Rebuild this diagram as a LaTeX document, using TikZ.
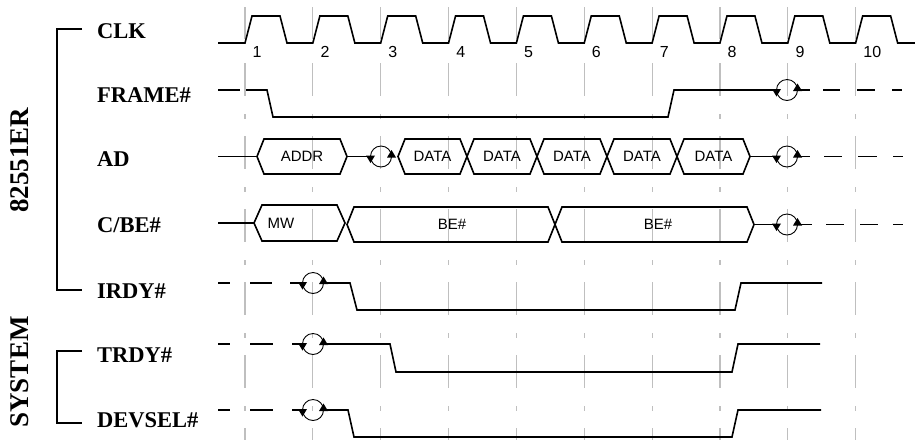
\documentclass[tikz,border=0pt]{standalone}
\usepackage{fontspec}
\setmainfont{Liberation Serif}
\newfontfamily\sansf{Liberation Sans}
\newcommand\tarnd[2]{%
  \draw[line width=0.9pt] (#1,#2) circle[radius=10.5pt];
  \fill (#1-15,#2-1) -- (#1-6,#2-1) -- (#1-10.5,#2+6.5) -- cycle;
  \fill (#1+6,#2+1) -- (#1+15,#2+1) -- (#1+10.5,#2-6.5) -- cycle;}
\newcommand\hexbus[5]{% left x, right x, top y, bottom y, slant
  \draw[sig] (#1,{(#3+#4)/2}) -- (#1+#5,#3) -- (#2-#5,#3) -- (#2,{(#3+#4)/2}) -- (#2-#5,#4) -- (#1+#5,#4) -- cycle;}
\begin{document}
\begin{tikzpicture}[x=1pt,y=-1pt,
  sig/.style={line width=1.6pt, line join=miter},
  gridln/.style={draw=black!25, line width=1.2pt},
  lbl/.style={font=\bfseries\fontsize{22.5}{26}\selectfont, anchor=base west, inner sep=0pt},
  side/.style={font=\bfseries\fontsize{27}{30}\selectfont, rotate=90, inner sep=0pt},
  num/.style={font=\sansf\fontsize{16}{18}\selectfont, anchor=north west, inner sep=0pt},
  bustext/.style={font=\sansf\fontsize{15}{18}\selectfont, inner sep=0pt},
  brk/.style={line width=1.8pt}]
\useasboundingbox (0,0) rectangle (915,440);

% grid lines
\foreach \k in {1,...,10}{
  \pgfmathsetmacro\xx{245+67.85*(\k-1)}
  \draw[gridln] (\xx,7) -- (\xx,39);
  \draw[gridln, dash pattern=on 33pt off 18pt on 5pt off 17pt] (\xx,63) -- (\xx,440);
}

% brackets and side labels
\draw[brk] (82,29) -- (57,29) -- (57,290) -- (82,290);
\draw[brk] (82,351) -- (57,351) -- (57,423) -- (82,423);
\node[side] (s1) at (20,160) {82551ER};
\node[side] (s2) at (20,372) {SYSTEM};

% signal names
\node[lbl] (lclk) at (97,38) {CLK};
\node[lbl] (lframe) at (97,102) {FRAME\#};
\node[lbl] (lad) at (97,166) {AD};
\node[lbl] (lcbe) at (97,232) {C/BE\#};
\node[lbl] (lirdy) at (97,298) {IRDY\#};
\node[lbl] (ltrdy) at (97,362) {TRDY\#};
\node[lbl] (ldev) at (97,427) {DEVSEL\#};

% CLK
\draw[sig] (218,43) foreach \k [evaluate=\k as \xx using 245+67.85*(\k-1)] in {1,...,10}{
  -- (\xx,43) -- (\xx+7,16) -- (\xx+35,16) -- (\xx+42,43) } -- (915,43);
\foreach \k in {1,...,10}{
  \pgfmathsetmacro\xx{245+67.85*(\k-1)}
  \node[num] (n\k) at (\xx+7.5,46.5) {\k};
}

% FRAME#
\draw[sig] (218,90) -- (240,90);
\draw[sig] (246,90) -- (267,90) -- (273,117) -- (668,117) -- (674,90) -- (776,90);
\tarnd{787}{90}
\draw[sig] (798,90) -- (810,90);
\draw[sig] (823,90) -- (840,90) (857,90) -- (875,90) (892,90) -- (902,90);

% AD
\draw[sig] (218,156.5) -- (257,156.5);
\hexbus{257}{347}{139}{174}{7}
\node[bustext] (addr) at (302,156.5) {ADDR};
\draw[sig] (347,156.5) -- (370,156.5);
\tarnd{381}{156.5}
\hexbus{398}{467}{139}{174}{7}
\hexbus{467}{537}{139}{174}{7}
\hexbus{537}{607}{139}{174}{7}
\hexbus{607}{677}{139}{174}{7}
\hexbus{677}{750}{139}{174}{7}
\node[bustext] (d1) at (432.5,156.5) {DATA};
\node[bustext] (d2) at (502,156.5) {DATA};
\node[bustext] (d3) at (572,156.5) {DATA};
\node[bustext] (d4) at (642,156.5) {DATA};
\node[bustext] (d5) at (713.5,156.5) {DATA};
\draw[sig] (750,156.5) -- (776,156.5);
\tarnd{787}{156.5}
\draw[sig] (798,156.5) -- (810,156.5);
\draw[sig] (824,156.5) -- (842,156.5) (858,156.5) -- (877,156.5) (893,156.5) -- (903,156.5);

% C/BE#
\draw[sig] (218,223) -- (254,223);
\hexbus{254}{345}{205}{241}{8}
\node[bustext] (mw) at (281,223) {MW};
\hexbus{347}{555}{207}{242}{7}
\hexbus{555}{754}{207}{242}{7}
\node[bustext] (be1) at (452,224.5) {BE\#};
\node[bustext] (be2) at (658,224.5) {BE\#};
\draw[sig] (754,224.5) -- (776,224.5);
\tarnd{787}{224.5}
\draw[sig] (798,224.5) -- (812,224.5);
\draw[sig] (826,224.5) -- (844,224.5) (860,224.5) -- (878,224.5) (893,224.5) -- (903,224.5);

% IRDY#
\draw[sig] (218,283) -- (230,283) (250,283) -- (272,283) (290,283) -- (302,283);
\tarnd{313}{283}
\draw[sig] (324,283) -- (350,283) -- (357,310) -- (735,310) -- (741,283) -- (822,283);

% TRDY#
\draw[sig] (218,344) -- (230,344) (250,344) -- (273,344) (292,344) -- (302,344);
\tarnd{313}{344}
\draw[sig] (324,344) -- (390,344) -- (396,372) -- (732,372) -- (738,344) -- (820,344);

% DEVSEL#
\draw[sig] (218,410) -- (230,410) (250,410) -- (273,410) (292,410) -- (302,410);
\tarnd{313}{410}
\draw[sig] (324,410) -- (348,410) -- (354,437) -- (732,437) -- (738,410) -- (821,410);
\end{tikzpicture}
\end{document}
